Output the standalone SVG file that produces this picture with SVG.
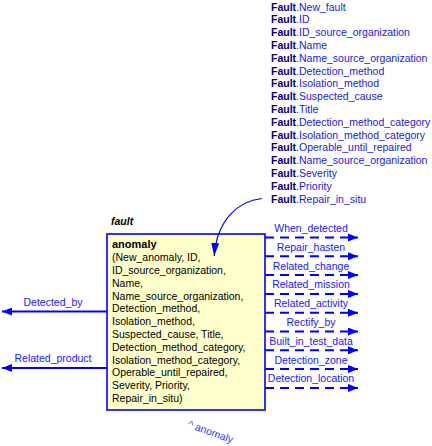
<svg xmlns="http://www.w3.org/2000/svg" width="432" height="446" viewBox="0 0 432 446">
<style>
text{font-family:"Liberation Sans",Arial,sans-serif;font-size:10.5px}
.attr{fill:#2020e0}
.attr tspan.b{font-weight:bold;fill:#000080}
.lbl{fill:#2020ff;text-anchor:middle}
.box{fill:#ffffcc;stroke:#0000ff;stroke-width:1.6}
.body{fill:#000}
.dash{stroke:#0000ff;stroke-width:2;fill:none;stroke-dasharray:9 6}
.solid{stroke:#0000ff;stroke-width:2;fill:none}
.thin{stroke:#0000ff;stroke-width:1.2;fill:none}
</style>
<defs>
<marker id="ah" viewBox="0 0 10 8" refX="10" refY="4" markerWidth="10" markerHeight="8" markerUnits="userSpaceOnUse" orient="auto">
<path d="M0,0 L10,4 L0,8 z" fill="#0000ff"/>
</marker>
<marker id="ah2" viewBox="0 0 13 8" refX="13" refY="4" markerWidth="13" markerHeight="8" markerUnits="userSpaceOnUse" orient="auto">
<path d="M0,0 L13,4 L0,8 z" fill="#0000ff"/>
</marker>
</defs>
<g id="attributes">
<text class="attr" x="271" y="10.5"><tspan class="b">Fault</tspan>.New_fault</text>
<text class="attr" x="271" y="23.3"><tspan class="b">Fault</tspan>.ID</text>
<text class="attr" x="271" y="36.1"><tspan class="b">Fault</tspan>.ID_source_organization</text>
<text class="attr" x="271" y="48.9"><tspan class="b">Fault</tspan>.Name</text>
<text class="attr" x="271" y="61.7"><tspan class="b">Fault</tspan>.Name_source_organization</text>
<text class="attr" x="271" y="74.5"><tspan class="b">Fault</tspan>.Detection_method</text>
<text class="attr" x="271" y="87.3"><tspan class="b">Fault</tspan>.Isolation_method</text>
<text class="attr" x="271" y="100.1"><tspan class="b">Fault</tspan>.Suspected_cause</text>
<text class="attr" x="271" y="112.9"><tspan class="b">Fault</tspan>.Title</text>
<text class="attr" x="271" y="125.7"><tspan class="b">Fault</tspan>.Detection_method_category</text>
<text class="attr" x="271" y="138.5"><tspan class="b">Fault</tspan>.Isolation_method_category</text>
<text class="attr" x="271" y="151.3"><tspan class="b">Fault</tspan>.Operable_until_repaired</text>
<text class="attr" x="271" y="164.1"><tspan class="b">Fault</tspan>.Name_source_organization</text>
<text class="attr" x="271" y="176.9"><tspan class="b">Fault</tspan>.Severity</text>
<text class="attr" x="271" y="189.7"><tspan class="b">Fault</tspan>.Priority</text>
<text class="attr" x="271" y="202.5"><tspan class="b">Fault</tspan>.Repair_in_situ</text>
</g>
<g id="anomaly">
<text x="111" y="225" style="font-weight:bold;font-style:italic">fault</text>
<rect class="box" x="107" y="234" width="158" height="176"/>
<text class="body" x="112" y="248.3" style="font-weight:bold;font-size:11px">anomaly</text>
<text class="body" x="112" y="261.1">(New_anomaly, ID,</text>
<text class="body" x="112" y="273.9">ID_source_organization,</text>
<text class="body" x="112" y="286.7">Name,</text>
<text class="body" x="112" y="299.5">Name_source_organization,</text>
<text class="body" x="112" y="312.3">Detection_method,</text>
<text class="body" x="112" y="325.1">Isolation_method,</text>
<text class="body" x="112" y="337.9">Suspected_cause, Title,</text>
<text class="body" x="112" y="350.7">Detection_method_category,</text>
<text class="body" x="112" y="363.5">Isolation_method_category,</text>
<text class="body" x="112" y="376.3">Operable_until_repaired,</text>
<text class="body" x="112" y="389.1">Severity, Priority,</text>
<text class="body" x="112" y="401.9">Repair_in_situ)</text>
</g>
<g id="connectors">
<path class="thin" d="M262,198.5 C238,201 217,220 214.2,256" marker-end="url(#ah2)"/>
<line class="dash" x1="265" y1="237.5" x2="358" y2="237.5" marker-end="url(#ah)"/>
<line class="dash" x1="265" y1="256.3" x2="358" y2="256.3" marker-end="url(#ah)"/>
<line class="dash" x1="265" y1="275.1" x2="358" y2="275.1" marker-end="url(#ah)"/>
<line class="dash" x1="265" y1="293.9" x2="358" y2="293.9" marker-end="url(#ah)"/>
<line class="dash" x1="265" y1="312.7" x2="358" y2="312.7" marker-end="url(#ah)"/>
<line class="dash" x1="265" y1="331.5" x2="358" y2="331.5" marker-end="url(#ah)"/>
<line class="dash" x1="265" y1="350.3" x2="358" y2="350.3" marker-end="url(#ah)"/>
<line class="dash" x1="265" y1="369.1" x2="358" y2="369.1" marker-end="url(#ah)"/>
<line class="dash" x1="265" y1="387.9" x2="358" y2="387.9" marker-end="url(#ah)"/>
<text class="lbl" x="311" y="232">When_detected</text>
<text class="lbl" x="311" y="250.8">Repair_hasten</text>
<text class="lbl" x="311" y="269.6">Related_change</text>
<text class="lbl" x="311" y="288.4">Related_mission</text>
<text class="lbl" x="311" y="307.2">Related_activity</text>
<text class="lbl" x="311" y="326">Rectify_by</text>
<text class="lbl" x="311" y="344.8">Built_in_test_data</text>
<text class="lbl" x="311" y="363.6">Detection_zone</text>
<text class="lbl" x="311" y="382.4">Detection_location</text>
<line class="solid" x1="107" y1="311.5" x2="2" y2="311.5" marker-end="url(#ah)"/>
<line class="solid" x1="107" y1="368" x2="2" y2="368" marker-end="url(#ah)"/>
<text class="lbl" x="53" y="305.5">Detected_by</text>
<text class="lbl" x="53" y="362">Related_product</text>
<text x="187" y="427" transform="rotate(20 187 427)" style="fill:#3333ff">^ anomaly</text>
</g>
</svg>
